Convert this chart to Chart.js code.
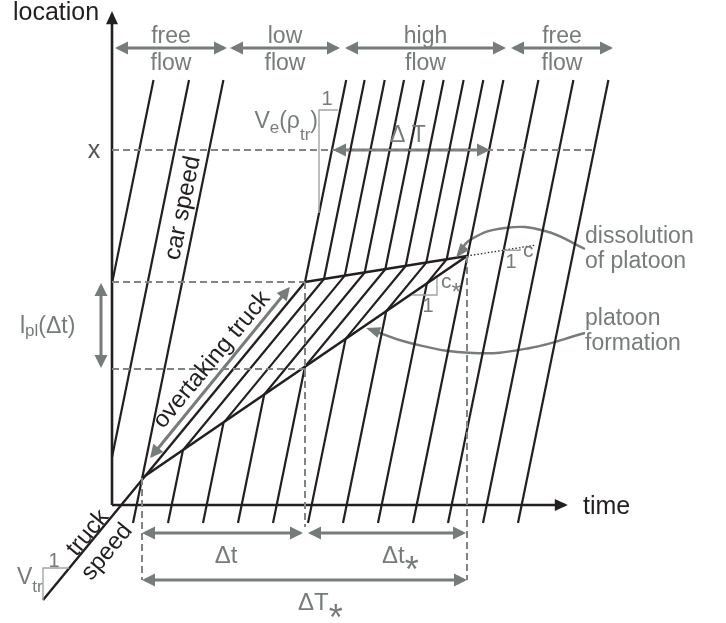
<!DOCTYPE html>
<html>
<head>
<meta charset="utf-8">
<script src="https://cdn.jsdelivr.net/npm/chart.js@4.4.1/dist/chart.umd.min.js"></script>
<style>
  body { margin: 0; background: #fff; }
</style>
</head>
<body>
<canvas id="sketch" width="726" height="623"></canvas>
<script>
// time runs to the right, location upwards (sketch units)
var ink = '#231f20';
var grey = '#767b7b';
var lightGrey = '#a2a5a5';

// car trajectories, corners: [time, location]
var carsBefore = [
  [[0, 221.6], [41.5, 425]],
  [[0, 47.7], [77, 425]],
  [[21, -18], [111.4, 425]]
];
var carsInPlatoon = [
  [[56, -18], [70.9, 54.7], [212, 226], [252.6, 425]],
  [[91, -18], [111.5, 82.1], [232.8, 229.4], [272.7, 425]],
  [[126, -18], [152.2, 110.5], [252.7, 232.6], [292, 425]],
  [[161, -18], [192.9, 138.3], [273.3, 235.8], [311.9, 425]],
  [[196, -18], [233.6, 166.1], [293.7, 239.1], [331.6, 425]],
  [[231, -18], [274.2, 193.8], [314.3, 242.4], [351.6, 425]],
  [[266, -18], [314.9, 221.6], [334.7, 245.7], [371.3, 425]]
];
var carsAfter = [
  [[193, 223], [234.2, 425]],
  [[301, -18], [391.4, 425]],
  [[336, -18], [426.4, 425]],
  [[371, -18], [461.4, 425]],
  [[406, -18], [496.4, 425]]
];
var truckPath = [[-69, -95], [193, 223]];
var formationEdge = [[30, 27], [355, 249]];
var dissolutionEdge = [[193, 223], [355, 249]];
var dissolutionTrend = [[355, 249], [424, 260]];

var timeAxis = [[0, 0], [453, 0]];
var locationAxis = [[0, 0], [0, 491]];

// dashed guides
var guides = [
  [[0, 355], [483, 355]],
  [[0, 223], [193, 223]],
  [[0, 136], [193, 136]],
  [[30, 27], [30, -75]],
  [[193, 223], [193, -22]],
  [[355, 249], [355, -75]]
];

// flow regimes over the top
var flowNames = [['free', 'flow'], ['low', 'flow'], ['high', 'flow'], ['free', 'flow']];
var flowSpans = [[6, 112], [121, 225], [236, 391], [402, 498]];
var flowLevel = 457;

// dimension arrows
var spanDT = [[224, 355], [375, 355]];
var spanDt = [[33, -28], [188, -28]];
var spanDtStar = [[199, -28], [351, -28]];
var spanDTStar = [[33, -75], [352, -75]];
var spanPlatoon = [[-11, 219], [-11, 140]];
var spanOvertake = [[40, 49.3], [176, 215.7]];

// curved pointers
var dissolutionPointer = [[473, 256], [433, 274], [393, 277], [358, 265], [346, 250]];
var formationPointer = [[473, 172], [418, 157], [361, 152], [298, 162], [257, 176]];

// slope triangles
var slopeCar = [[226, 395], [207, 395], [207, 292]];
var slopeFormation = [[300, 210], [325, 210], [325, 227]];
var slopeDissolution = [[391, 254.8], [408, 254.8], [408, 257.5]];
var slopeTruck = [[-43, -63], [-69, -63], [-69, -95]];

var datasets = [];
function add(pts, style) {
  datasets.push(Object.assign({
    data: pts.map(function(p) { return {x: p[0], y: p[1]}; }),
    borderColor: ink,
    borderWidth: 2.2,
    pointRadius: 0,
    tension: 0,
    fill: false,
    borderJoinStyle: 'miter'
  }, style || {}));
}

guides.forEach(function(g) { add(g, {borderColor: '#7f8484', borderWidth: 2, borderDash: [7, 4]}); });
[slopeCar, slopeFormation, slopeDissolution, slopeTruck].forEach(function(s) {
  add(s, {borderColor: lightGrey, borderWidth: 1.4});
});
carsBefore.concat(carsInPlatoon, carsAfter).forEach(function(c) { add(c); });
add(truckPath, {borderWidth: 2.4});
add(formationEdge, {borderWidth: 2.6});
add(dissolutionEdge, {borderWidth: 2.6});
add(dissolutionTrend, {borderWidth: 1.2, borderDash: [1.5, 2]});
add(timeAxis, {borderWidth: 2.6, arrow: 'end', headLen: 13, headWidth: 12});
add(locationAxis, {borderWidth: 2.6, arrow: 'end', headLen: 13, headWidth: 12});

var greyArrow = {borderColor: grey, borderWidth: 3, arrow: 'both', headLen: 13, headWidth: 13};
flowSpans.forEach(function(s) { add([[s[0], flowLevel], [s[1], flowLevel]], greyArrow); });
[spanDT, spanDt, spanDtStar, spanDTStar, spanPlatoon, spanOvertake].forEach(function(s) { add(s, greyArrow); });
add(dissolutionPointer, {borderColor: grey, borderWidth: 2.4, tension: 0.45, arrow: 'end', headLen: 14, headWidth: 11});
add(formationPointer, {borderColor: grey, borderWidth: 2.4, tension: 0.45, arrow: 'end', headLen: 14, headWidth: 11});

// texts, placed in sketch units
var notes = [
  {at: [-99, 485], parts: [['location']], size: 25, color: ink, align: 'left'},
  {at: [471, -9], parts: [['time']], size: 25, color: ink, align: 'left'},
  {at: [-18, 347], parts: [['x']], size: 25, color: '#555'},
  {at: [296, 363], parts: [['Δ T']], size: 23, color: grey},
  {at: [215, 400], parts: [['1']], size: 20, color: grey},
  {at: [206, 377], parts: [['V'], ['e', 17, 5], ['(ρ'], ['tr', 17, 12], [')']], size: 23, color: grey, align: 'right'},
  {at: [-92, 172], parts: [['l'], ['pl', 17, 3], ['(Δt)']], size: 23, color: grey, align: 'left'},
  {at: [71, 297], parts: [['car speed']], size: 24, color: ink, rot: -78.5},
  {at: [100, 145], parts: [['overtaking truck']], size: 24, color: ink, rot: -50.5},
  {at: [-24, -28], parts: [['truck']], size: 24, color: ink, rot: -50.5},
  {at: [-5, -47], parts: [['speed']], size: 24, color: ink, rot: -50.5},
  {at: [473, 262], parts: [['dissolution']], size: 23, color: grey, align: 'left'},
  {at: [473, 237], parts: [['of platoon']], size: 23, color: grey, align: 'left'},
  {at: [473, 180], parts: [['platoon']], size: 23, color: grey, align: 'left'},
  {at: [473, 155], parts: [['formation']], size: 23, color: grey, align: 'left'},
  {at: [411, 248], parts: [['c']], size: 21, color: grey, align: 'left'},
  {at: [399, 237], parts: [['1']], size: 20, color: grey},
  {at: [329, 217], parts: [['c'], ['*', 24, 12]], size: 21, color: grey, align: 'left'},
  {at: [316, 193], parts: [['1']], size: 20, color: grey},
  {at: [114, -58], parts: [['Δt']], size: 24, color: grey},
  {at: [270, -58], parts: [['Δt'], ['*', 36, 19]], size: 24, color: grey, align: 'left'},
  {at: [186, -105], parts: [['ΔT'], ['*', 36, 20]], size: 24, color: grey, align: 'left'},
  {at: [-95, -79], parts: [['V'], ['tr', 17, 8]], size: 23, color: grey, align: 'left'},
  {at: [-58, -62], parts: [['1']], size: 20, color: grey}
];
flowNames.forEach(function(name, i) {
  var mid = (flowSpans[i][0] + flowSpans[i][1]) / 2;
  notes.push({at: [mid, flowLevel + 5], parts: [[name[0]]], size: 23, color: grey});
  notes.push({at: [mid, flowLevel - 22], parts: [[name[1]]], size: 23, color: grey});
});

var family = "'Liberation Sans', Arial, sans-serif";

function drawNote(ctx, x, y, n) {
  var segs = n.parts.map(function(p) { return {text: p[0], size: p[1] || n.size, dy: p[2] || 0}; });
  var w = 0;
  segs.forEach(function(s) {
    ctx.font = s.size + 'px ' + family;
    s.w = ctx.measureText(s.text).width;
    w += s.w;
  });
  ctx.save();
  ctx.translate(x, y);
  if (n.rot) ctx.rotate(n.rot * Math.PI / 180);
  ctx.fillStyle = n.color;
  ctx.textBaseline = n.rot ? 'middle' : 'alphabetic';
  ctx.textAlign = 'left';
  var cx = n.align === 'left' ? 0 : (n.align === 'right' ? -w : -w / 2);
  segs.forEach(function(s) {
    ctx.font = s.size + 'px ' + family;
    ctx.fillText(s.text, cx, s.dy);
    cx += s.w;
  });
  ctx.restore();
}

function towards(pts, idx, atEnd) {
  var p = pts[idx];
  var cx = atEnd ? p.cp1x : p.cp2x;
  var cy = atEnd ? p.cp1y : p.cp2y;
  if (cx != null && Math.hypot(cx - p.x, cy - p.y) > 1) return {x: cx, y: cy};
  return pts[atEnd ? idx - 1 : idx + 1];
}

var arrowHeads = {
  id: 'arrowHeads',
  afterDatasetsDraw: function(chart) {
    var ctx = chart.ctx;
    chart.data.datasets.forEach(function(ds, i) {
      if (!ds.arrow) return;
      var pts = chart.getDatasetMeta(i).data;
      var n = pts.length;
      function head(tip, from) {
        var a = Math.atan2(tip.y - from.y, tip.x - from.x);
        var L = ds.headLen, W = ds.headWidth / 2;
        var push = ds.borderWidth / 2 * L / W;
        ctx.save();
        ctx.translate(tip.x, tip.y);
        ctx.rotate(a);
        ctx.beginPath();
        ctx.moveTo(push, 0);
        ctx.lineTo(push - L, -W);
        ctx.lineTo(push - L, W);
        ctx.closePath();
        ctx.fillStyle = ds.borderColor;
        ctx.fill();
        ctx.restore();
      }
      if (ds.arrow !== 'start') head(pts[n - 1], towards(pts, n - 1, true));
      if (ds.arrow !== 'end') head(pts[0], towards(pts, 0, false));
    });
  }
};

var labelLayer = {
  id: 'labelLayer',
  afterDraw: function(chart) {
    var xs = chart.scales.x, ys = chart.scales.y;
    notes.forEach(function(n) {
      drawNote(chart.ctx, xs.getPixelForValue(n.at[0]), ys.getPixelForValue(n.at[1]), n);
    });
  }
};

var ctx = document.getElementById('sketch').getContext('2d');
var chart = new Chart(ctx, {
  type: 'line',
  data: {datasets: datasets},
  plugins: [arrowHeads, labelLayer],
  options: {
    responsive: false,
    animation: false,
    devicePixelRatio: 1,
    layout: {padding: 0},
    plugins: {legend: {display: false}, tooltip: {enabled: false}},
    scales: {
      x: {type: 'linear', min: -112, max: 614, display: false},
      y: {type: 'linear', min: -118, max: 505, display: false}
    }
  }
});
</script>
</body>
</html>
